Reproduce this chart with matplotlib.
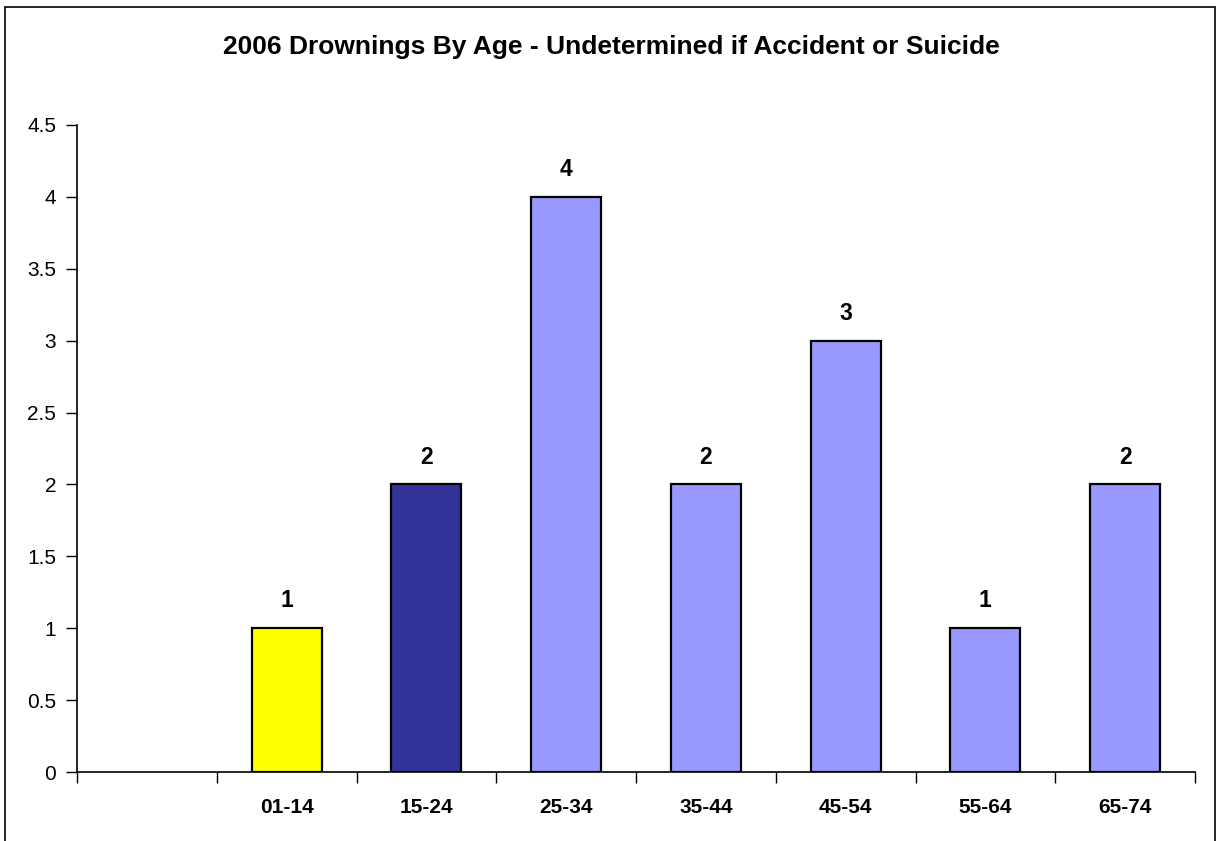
import numpy as np
import matplotlib.pyplot as plt
from matplotlib.patches import Rectangle

# data
categories = ['', '01-14', '15-24', '25-34', '35-44', '45-54', '55-64', '65-74']
counts = [0, 1, 2, 4, 2, 3, 1, 2]
colors = ['white', '#FFFF00', '#333399', '#9999FF', '#9999FF', '#9999FF', '#9999FF', '#9999FF']
yticks = [0, 0.5, 1, 1.5, 2, 2.5, 3, 3.5, 4, 4.5]

plt.rcParams['font.family'] = ['Liberation Sans', 'DejaVu Sans']

fig = plt.figure(figsize=(12.23, 8.41), dpi=100)
ax = fig.add_axes([77/1223, 1-772/841, (1195-77)/1223, (772-125)/841])

x = np.arange(len(categories))
for i in x[1:]:
    ax.bar(x[i], counts[i], width=0.5, color=colors[i], edgecolor='black', linewidth=1.6, zorder=3)
    ax.text(x[i], counts[i] + 0.11, str(counts[i]), ha='center', va='bottom',
            fontsize=16.5, fontweight='bold')

ax.set_xlim(-0.5, len(categories) - 0.5)
ax.set_ylim(0, 4.5)
ax.set_yticks(yticks)
ax.set_yticklabels([('%g' % v) for v in yticks], fontsize=15)
ax.set_xticks(x)
ax.set_xticklabels(categories, fontsize=15, fontweight='bold')
ax.set_xticks(np.arange(-0.5, len(categories), 1), minor=True)
ax.tick_params(axis='x', which='major', length=0, pad=19)
ax.tick_params(axis='x', which='minor', length=8, width=1)
ax.tick_params(axis='y', length=8, width=1, pad=7)
for s in ['top', 'right']:
    ax.spines[s].set_visible(False)
for s in ['left', 'bottom']:
    ax.spines[s].set_linewidth(1.2)

fig.text(0.5, 1-47/841, '2006 Drownings By Age - Undetermined if Accident or Suicide',
         ha='center', va='center', fontsize=19, fontweight='bold')

fig.patches.append(Rectangle((5/1223, -0.05), (1215-5)/1223, 1.05-7/841, transform=fig.transFigure,
                             fill=False, edgecolor='black', linewidth=1.2))

fig.savefig('out.png', dpi=100)
